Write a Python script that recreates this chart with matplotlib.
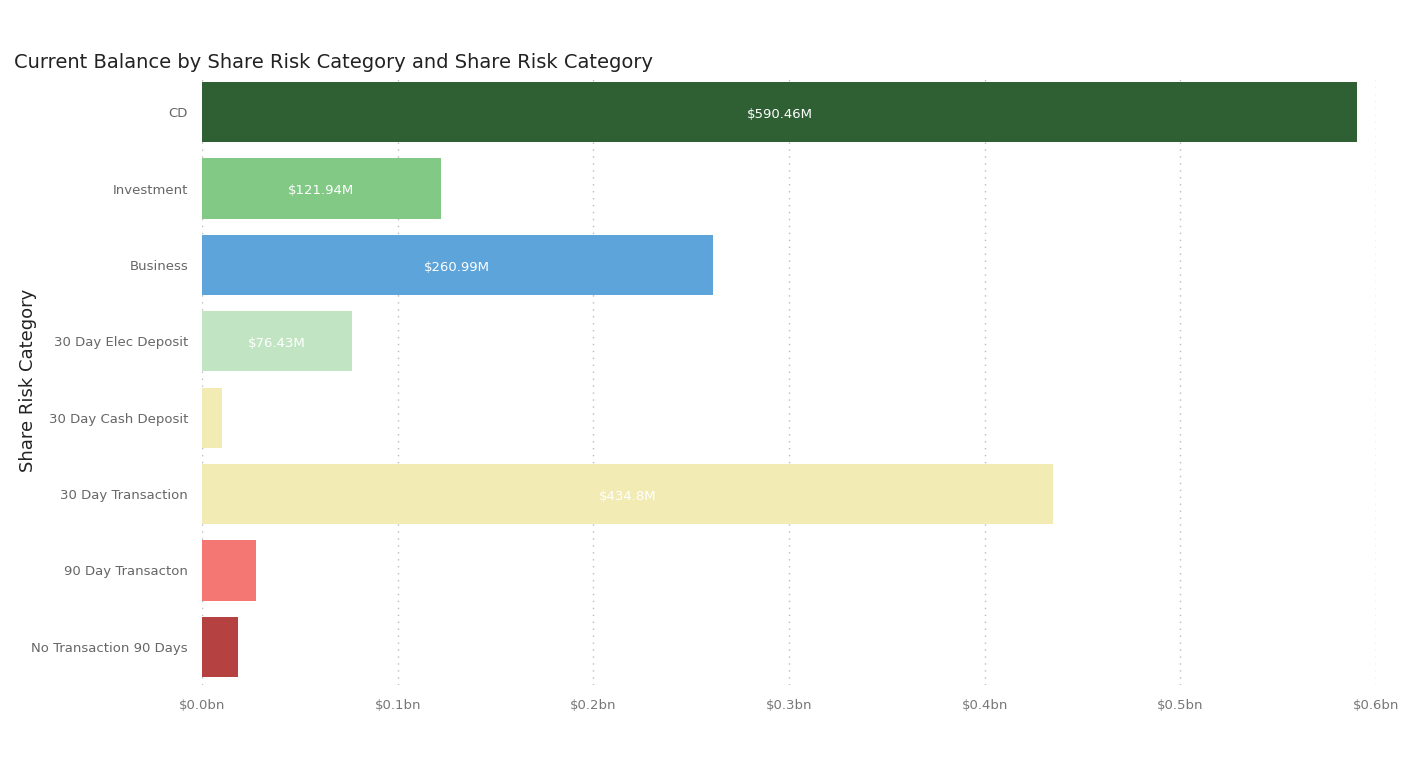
import matplotlib
matplotlib.use('Agg')
import matplotlib.pyplot as plt

categories = ['CD', 'Investment', 'Business', '30 Day Elec Deposit', '30 Day Cash Deposit',
              '30 Day Transaction', '90 Day Transacton', 'No Transaction 90 Days']
values_m = [590.46, 121.94, 260.99, 76.43, 10.0, 434.8, 27.6, 18.4]
labels = ['$590.46M', '$121.94M', '$260.99M', '$76.43M', '', '$434.8M', '', '']
colors = ['#2F6034', '#81C985', '#5DA4DA', '#C1E5C2', '#F2EBB4', '#F2EBB4', '#F47774', '#B54141']
xticks = [0, 0.1, 0.2, 0.3, 0.4, 0.5, 0.6]
xticklabels = ['$0.0bn', '$0.1bn', '$0.2bn', '$0.3bn', '$0.4bn', '$0.5bn', '$0.6bn']

fig = plt.figure(figsize=(14.08, 7.64), dpi=100)
ax = fig.add_axes((202 / 1408, 1 - 685 / 764, (1376 - 202) / 1408, (685 - 74) / 764))

vals = [v / 1000 for v in values_m]
ypos = list(range(len(categories)))
ax.barh(ypos, vals, height=0.79, color=colors, zorder=2)
for y, v, lab in zip(ypos, vals, labels):
    if lab:
        ax.text(v / 2, y + 0.03, lab, color='white', ha='center', va='center', fontsize=9.5, zorder=3)

ax.set_ylim(7.5, -0.5)
ax.set_xlim(0, 0.6)
ax.set_yticks(ypos)
ax.set_yticklabels(categories, fontsize=9.5, color='#666666')
ax.set_xticks(xticks)
ax.set_xticklabels(xticklabels, fontsize=9.5, color='#777777')
ax.tick_params(length=0, pad=10)
ax.xaxis.grid(True, linestyle=(0, (1, 4)), color='#BBBBBB', linewidth=1, zorder=0)
for s in ax.spines.values():
    s.set_visible(False)

fig.text(28 / 1408, 1 - 380 / 764, 'Share Risk Category', fontsize=13, color='#222222',
         rotation=90, ha='center', va='center')
fig.text(14 / 1408, 1 - 62 / 764, 'Current Balance by Share Risk Category and Share Risk Category',
         fontsize=14, color='#222222', va='center')

fig.savefig('out.png')
